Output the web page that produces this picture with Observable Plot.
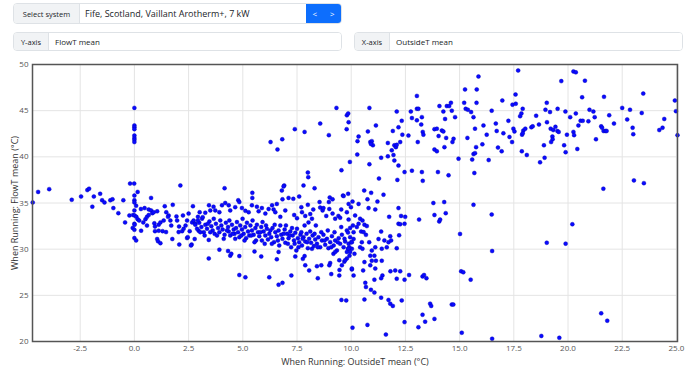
<!DOCTYPE html>
<html><head><meta charset="utf-8">
<script src="https://cdn.jsdelivr.net/npm/d3@7"></script>
<script src="https://cdn.jsdelivr.net/npm/@observablehq/plot@0.6"></script>
<style>
body{margin:0;width:690px;height:374px;overflow:hidden;background:#fff;font-family:"Open Sans",sans-serif;position:relative}
.grp{position:absolute;display:flex;border:1px solid #dee2e6;border-radius:4px;overflow:hidden;font-size:7.5px;color:#212529;box-sizing:border-box}
.lab{background:#f1f3f5;border-right:1px solid #dee2e6;display:flex;align-items:center;justify-content:center;box-sizing:border-box}
.val{flex:1;display:flex;align-items:center;padding:0 6px;background:#fff;font-size:8px}
.btn{background:#0d6efd;color:#fff;display:flex;align-items:center;justify-content:space-around;width:35px;font-size:8px}
#chart{position:absolute;left:0;top:55px}
</style></head><body>
<div class="grp" style="left:13px;top:3px;width:329px;height:21px"><div class="lab" style="width:66px">Select system</div><div class="val" style="font-size:9px;padding-left:5px">Fife, Scotland, Vaillant Arotherm+, 7 kW</div><div class="btn"><span>&lt;</span><span>&gt;</span></div></div>
<div class="grp" style="left:13px;top:32px;width:329px;height:19px"><div class="lab" style="width:35px">Y-axis</div><div class="val">FlowT mean</div></div>
<div class="grp" style="left:354px;top:32px;width:329px;height:19px"><div class="lab" style="width:35px">X-axis</div><div class="val">OutsideT mean</div></div>
<div id="chart"></div>
<script>
const xTicks = [-2.5, 0, 2.5, 5, 7.5, 10, 12.5, 15, 17.5, 20, 22.5, 25];
const yTicks = [20, 25, 30, 35, 40, 45, 50];
const xLabel = "When Running: OutsideT mean (°C)";
const yLabel = "When Running: FlowT mean (°C)";

// [OutsideT mean, FlowT mean]
const coldSide = [[-4.69,35.06],[-4.44,36.2],[-3.93,36.5],[-2.89,35.35],[-2.46,35.7],[-2.17,36.4],[-2.09,36.55],[-1.87,35.7],[-1.94,34.6],[-1.58,36.0],[-1.49,35.3],[-1.38,35.06],[-1.11,35.3],[-1.01,35.4],[-0.97,34.45],[-0.74,33.9],[-0.51,35.3],[-0.43,32.9],[-0.2,37.1],[-0.01,37.1],[0,35.8],[0,35.3],[0,35.06],[0.15,36.2],[0.08,34.7],[0,34.2],[-0.23,33.65],[-0.06,33.7],[0.01,33.65],[0.09,33.5],[0.15,33.25],[0.22,33.1],[0,32.75],[0.01,32.65],[-0.08,32.3],[0,32.1],[0,31.2],[0.08,30.95]];
const zeroColumn = [[0,45.3],[0,43.4],[0,43.2],[0,43.0],[0,42.3],[0,42.05],[0,41.85],[0,41.6]];
const mildSide = [[0.31,32.0],[0.3,34.35],[0.47,34.45],[0.77,35.55],[0.41,32.9],[0.51,33.25],[0.58,33.5],[0.66,33.7],[0.58,32.55],[0.66,34.3],[0.77,34.2],[0.83,33.9],[0.89,34.0],[1.05,34.1],[0.92,32.8],[0.95,32.45],[1.12,32.65],[1.2,32.9],[1.35,33.1],[0.95,31.95],[1.12,32.0],[1.05,31.1],[1.09,30.85],[1.2,30.65],[1.4,34.65],[1.47,34.0],[1.58,33.65],[1.55,33.5],[1.66,33.1],[1.77,34.8],[1.3,31.95],[1.46,31.85],[1.7,32.55],[1.75,31.1],[1.94,33.55],[1.97,33.1],[2.06,32.45],[2.07,30.5],[2.12,36.9],[2.04,31.85],[2.2,31.95],[2.27,32.2],[2.36,32.55],[2.43,33.1],[2.24,33.65],[2.7,34.65],[2.5,33.85],[2.66,32.9],[2.73,33.1],[2.81,32.75],[2.93,33.5],[2.43,31.2],[2.64,30.5],[2.78,31.1],[2.55,31.95],[2.96,32.0],[2.46,31.3],[2.61,30.4]];
const upperMid = [[4.16,36.6],[5.44,36.1],[5.44,35.55],[6.28,41.6],[6.6,40.8],[6.82,41.9],[7.4,43.0],[7.85,42.7],[8.57,43.6],[8.97,42.35],[9.32,45.3],[9.8,44.5],[9.86,44.7],[9.88,43.75],[9.79,43.0],[9.94,39.45],[9.55,38.55],[8.0,38.3],[8.02,37.8],[7.8,36.9],[8.31,36.6],[6.8,36.35],[6.91,36.9],[6.88,36.8],[7.6,35.7],[7.33,35.45],[6.83,35.4],[7.11,35.55],[9.01,35.6],[9.14,35.4],[9.62,35.8],[9.86,36.0],[9.65,35.75],[8.54,35.1],[8.97,35.1],[4.79,35.3],[4.84,35.1],[4.19,35.0]];
const bandTop = [[3.44,34.75],[3.01,34.0],[3.12,33.3],[3.27,33.95],[3.5,34.2],[3.65,34.6],[3.73,34.2],[3.92,34.0],[4.04,34.75],[4.35,34.75],[4.42,34.2],[4.65,34.55],[4.96,34.45],[5.12,34.15],[5.27,34.0],[5.42,34.75],[5.65,34.6],[5.73,34.1],[5.88,34.45],[6.04,33.85],[6.19,34.35],[6.35,34.75],[6.42,34.3],[6.5,34.0],[6.57,34.9],[6.73,33.5],[6.96,34.2],[7.37,33.7],[7.5,33.35],[7.7,34.55],[7.73,34.0],[7.88,33.6],[8.0,34.8],[8.03,32.9],[8.11,33.8],[8.19,33.3],[8.25,34.3],[8.57,34.5],[8.68,34.2],[8.72,34.45],[8.85,33.6],[8.99,34.35],[9.14,33.85],[9.26,33.3],[9.41,33.6],[9.49,33.4],[9.54,34.3],[9.8,34.0],[9.88,33.2],[9.99,34.55],[10.06,35.15]];
const bandA = [[2.81,32.64],[2.89,32.21],[2.99,32.86],[3.09,32.39],[3.20,31.84],[3.27,32.64],[3.35,32.21],[3.46,33.0],[3.55,32.49],[3.61,32.03],[3.70,31.66],[3.76,32.75],[3.86,32.28],[3.92,31.84],[4.01,32.57],[4.07,32.13],[4.16,31.56],[4.22,32.86],[4.32,32.39],[4.35,31.92],[4.42,31.48],[4.50,32.64],[4.58,32.13],[4.62,31.66],[4.69,32.28],[4.78,31.84],[4.84,31.30],[4.88,32.57],[4.96,32.13],[5.04,31.66],[5.11,32.39],[5.15,31.19],[5.24,31.92],[5.30,31.48],[5.35,32.57],[5.42,32.03],[5.50,31.56],[5.58,32.28],[5.61,30.94],[5.70,31.84],[5.76,31.41],[5.85,32.39],[5.88,30.94],[5.96,31.92],[6.04,31.48],[6.11,32.21],[6.16,31.05],[6.22,31.66],[6.31,31.30],[6.37,32.28],[6.44,30.76],[6.50,31.84],[6.57,31.41],[6.65,32.03],[6.68,30.40],[6.77,31.56],[6.83,31.12],[6.93,32.13],[6.96,30.69],[7.04,31.66],[7.11,31.19],[7.19,31.92],[7.23,30.22],[7.30,31.48],[7.36,30.94],[7.42,31.77],[7.47,29.86],[7.54,31.19],[7.60,30.76],[7.66,31.56],[7.73,30.40],[7.80,31.30],[7.88,30.83],[7.94,31.66],[8.00,30.11],[8.06,31.12],[8.15,30.69],[8.22,31.48],[8.28,30.33],[8.34,31.05],[8.42,30.58],[8.49,31.30],[8.57,30.22],[8.65,30.94],[8.72,31.56],[8.80,30.47],[8.88,31.12],[8.95,30.11],[9.03,30.76],[9.11,31.41],[9.19,30.40],[9.26,30.94],[9.34,29.86],[9.42,31.19],[9.49,30.58],[9.57,31.56],[9.65,30.22],[9.72,30.83],[9.80,32.03],[9.88,30.58],[9.95,31.30],[10.03,30.04],[10.11,31.84]];
const bandB = [[2.93,33.11],[3.04,31.84],[3.15,33.47],[3.24,31.48],[3.39,32.75],[3.50,31.84],[3.66,33.29],[3.81,31.48],[3.96,33.11],[4.12,31.12],[4.27,32.03],[4.38,33.11],[4.53,31.66],[4.65,31.12],[4.73,32.93],[4.93,31.48],[4.99,33.29],[5.08,30.94],[5.19,32.86],[5.39,31.48],[5.45,33.11],[5.54,30.76],[5.65,32.64],[5.81,31.84],[5.91,32.93],[6.01,30.58],[6.07,32.57],[6.27,32.03],[6.34,30.58],[6.47,32.64],[6.62,30.94],[6.73,32.57],[6.88,31.66],[6.99,32.57],[7.08,30.58],[7.16,31.48],[7.27,32.28],[7.39,30.58],[7.50,32.21],[7.57,30.22],[7.70,31.84],[7.76,31.12],[7.85,32.57],[7.97,30.76],[8.11,31.92],[8.19,30.04],[8.31,31.66],[8.37,32.57],[8.46,30.22],[8.62,31.84],[8.77,30.94],[8.92,32.03],[9.08,30.22],[9.23,31.84],[9.38,30.76],[9.54,32.39],[9.69,31.12],[9.85,30.04],[10.0,30.76],[10.08,32.57],[3.43,31.0]];
const lowerMid = [[3.43,29.0],[4.42,29.3],[4.47,29.5],[4.84,29.25],[5.54,29.75],[5.85,29.2],[6.57,28.9],[6.65,29.7],[7.42,29.2],[7.85,29.25],[7.88,28.25],[8.06,27.7],[8.42,28.15],[8.62,28.25],[9.03,28.5],[8.99,28.25],[9.18,29.5],[9.26,29.7],[9.45,28.8],[9.57,28.25],[9.08,27.3],[9.45,27.15],[4.84,27.2],[5.12,26.95],[6.22,26.95],[7.24,27.15],[6.65,26.15],[6.83,26.35],[8.46,26.85],[10.03,27.8],[9.8,29.0],[9.92,29.3],[9.68,28.65],[3.92,29.95],[4.32,29.8],[7.77,28.95],[9.46,27.75],[9.55,24.5],[9.77,24.45],[9.72,28.8],[9.8,29.7]];
const upperWarm = [[13.03,46.6],[10.84,45.3],[11.14,43.4],[10.77,42.75],[10.34,42.2],[10.29,41.7],[10.88,41.6],[10.95,41.7],[11.0,41.25],[10.91,41.4],[10.28,40.25],[10.84,39.2],[11.38,39.9],[11.69,40.05],[11.28,37.65],[12.1,44.9],[12.33,43.9],[11.92,42.8],[12.18,43.2],[11.69,41.5],[11.87,40.7],[11.99,41.25],[12.06,41.05],[12.1,41.3],[11.95,40.2],[11.99,39.6],[12.18,39.05],[12.26,41.6],[12.36,42.4],[12.46,38.35],[12.64,42.3],[12.13,37.5],[12.8,38.5],[12.75,44.9],[13.03,45.2],[13.1,45.2],[12.8,44.2],[13.03,43.95],[13.26,44.3],[13.23,43.5],[13.3,42.7],[13.33,42.4],[13.07,41.6],[13.84,43.0],[13.95,43.05],[14.18,42.85],[14.25,42.75],[14.03,42.25],[14.38,42.05],[14.72,41.95],[14.67,41.6],[14.3,41.05],[13.84,40.8],[13.95,40.6],[14.07,45.5],[14.25,44.9],[14.41,45.5],[14.52,45.5],[14.6,45.85],[14.33,44.1],[14.64,45.0],[14.79,44.3],[15.21,45.85],[15.28,45.2],[15.38,45.1],[15.53,44.85],[15.64,44.3],[15.36,42.05],[14.95,39.8],[15.71,43.05],[15.64,40.3],[13.26,38.35],[14.0,38.35],[13.3,37.4],[14.49,38.0]];
const lowerWarm = [[10.6,36.35],[10.92,36.1],[10.75,35.4],[11.21,35.15],[11.49,35.9],[10.34,34.9],[9.88,34.9],[10.8,34.45],[11.11,34.3],[12.18,34.45],[11.75,33.5],[12.3,33.6],[12.49,33.5],[12.18,32.75],[12.26,32.7],[12.46,32.75],[13.13,33.2],[13.79,35.0],[14.29,35.1],[14.36,33.9],[13.84,33.7],[14.06,33.0],[14.1,33.2],[15.64,34.8],[15.02,31.65],[10.41,33.3],[10.52,33.1],[10.61,32.65],[10.34,32.75],[10.72,32.5],[10.46,31.9],[10.57,31.85],[10.68,31.55],[10.18,33.65],[10.26,32.4],[9.95,32.3],[9.85,31.8],[10.03,30.75],[9.91,30.2],[10.11,31.1],[10.49,30.75],[10.41,30.2],[10.52,30.05],[10.83,30.75],[10.95,29.85],[10.88,29.3],[11.11,30.2],[11.26,31.1],[11.38,31.9],[11.53,30.95],[11.41,30.05],[11.72,30.75],[11.8,31.4],[11.84,30.95],[11.64,30.2],[11.07,29.3],[11.14,28.75],[11.41,28.75],[10.95,28.75],[10.88,28.25],[11.11,27.9],[10.61,28.6],[10.55,27.7],[10.15,29.5],[9.88,30.05],[10.03,27.9],[10.11,27.15],[9.95,29.7],[12.1,30.1],[12.21,31.5],[11.81,27.6],[12.03,27.7],[12.26,27.6],[11.44,27.15],[11.38,26.85],[11.07,26.7],[10.65,26.35],[10.68,25.9],[10.91,25.6],[11.07,25.3],[12.1,26.8],[12.46,26.7],[12.67,27.2],[13.29,27.05],[13.36,27.2],[13.47,26.85],[10.61,24.55],[11.38,24.75],[11.72,24.5],[11.8,24.1],[11.92,23.85],[12.33,24.45],[13.64,24.1],[13.69,23.85],[14.64,24.0],[14.71,24.0],[13.29,22.9],[13.84,22.45],[13.41,22.15],[12.46,22.1],[13.1,21.55],[10.75,21.8],[10.06,21.5],[11.6,20.75],[15.1,20.95],[15.07,27.6],[15.17,27.5],[15.51,26.7]];
const rightUpper = [[15.25,47.3],[15.79,47.3],[15.87,48.7],[15.78,45.85],[15.76,41.05],[15.71,40.4],[15.58,39.7],[15.68,38.25],[16.05,41.35],[16.1,43.4],[16.25,42.4],[16.34,39.65],[16.48,45.0],[16.67,43.6],[16.71,42.8],[16.77,41.0],[16.94,40.6],[16.97,46.1],[17.02,42.55],[17.25,43.9],[17.3,42.15],[17.44,45.65],[17.42,41.6],[17.48,43.05],[17.53,42.75],[17.59,45.75],[17.58,46.75],[17.7,49.35],[17.79,44.4],[17.85,44.7],[17.91,45.2],[17.88,42.4],[17.87,40.6],[17.94,42.85],[17.91,42.55],[18.03,43.05],[18.1,40.2],[18.31,43.2],[18.37,43.3],[18.53,44.45],[18.66,43.5],[18.71,39.4],[18.89,41.25],[18.92,39.9],[18.96,45.1],[19.02,45.85],[19.03,43.75],[19.17,44.85],[19.2,43.05],[19.28,42.2],[19.29,41.9],[19.32,42.9],[19.22,41.6],[19.42,43.25],[19.51,42.8],[19.57,42.7],[19.52,45.2],[19.69,48.2],[19.82,41.25],[19.89,40.5],[19.88,44.9],[19.95,42.4],[20.1,44.3],[20.25,42.7],[20.28,42.35],[20.25,49.25],[20.36,49.15],[20.36,44.7],[20.43,40.85],[20.48,43.4],[20.58,43.9],[20.68,43.9],[20.65,46.45],[20.78,48.25],[20.94,43.85],[20.99,45.1],[21.17,44.9],[21.23,44.3],[21.29,41.9],[21.53,43.3],[21.57,43.15],[21.64,42.8],[21.73,42.8],[21.78,42.8],[21.66,46.5],[21.63,36.55],[21.9,44.5],[22.12,43.6],[22.5,45.3],[22.73,44.05],[22.86,45.1],[22.98,43.15],[23.01,42.45],[23.04,37.45],[23.5,37.15],[23.4,44.75],[23.47,46.85],[24.21,42.9],[24.36,43.15],[24.44,44.1],[24.93,46.1],[24.98,44.95],[25.05,42.35]];
const rightLower = [[16.48,33.75],[16.5,29.8],[16.5,20.3],[18.77,20.6],[19.6,20.4],[19.02,30.7],[19.89,30.6],[20.2,32.7],[21.53,23.05],[21.81,22.25]];

const points = [coldSide, zeroColumn, mildSide, upperMid, bandTop, bandA, bandB, lowerMid, upperWarm, lowerWarm, rightUpper, rightLower]
  .flat().map(([x, y]) => ({x, y}));

const chart = Plot.plot({
  width: 690, height: 319,
  marginLeft: 32, marginRight: 13, marginTop: 9, marginBottom: 33,
  style: {fontFamily: "'Open Sans', sans-serif", fontSize: "8px", color: "#444", background: "transparent", overflow: "visible"},
  x: {domain: [-4.7, 25.05]},
  y: {domain: [20, 50]},
  marks: [
    Plot.gridX(xTicks, {stroke: "#e4e4e4", strokeOpacity: 1}),
    Plot.gridY(yTicks, {stroke: "#e4e4e4", strokeOpacity: 1}),
    Plot.dot(points, {x: "x", y: "y", r: 2, fill: "#0a0aff", stroke: "#0000b0", strokeWidth: 0.4}),
    Plot.frame({stroke: "#555", strokeWidth: 1.5}),
    Plot.axisX(xTicks, {tickSize: 0, tickPadding: 4, tickFormat: d => d.toFixed(1), label: null, fill: "#555"}),
    Plot.axisY(yTicks, {tickSize: 0, tickPadding: 4, label: null, fill: "#555"}),
    Plot.axisX([], {label: xLabel, labelAnchor: "center", labelOffset: 23, labelArrow: "none", fontSize: 9, fill: "#333"}),
    Plot.axisY([], {label: yLabel, labelAnchor: "center", labelOffset: 21, labelArrow: "none", fontSize: 9, fill: "#333"})
  ]
});
document.getElementById("chart").appendChild(chart);
</script>
</body></html>
